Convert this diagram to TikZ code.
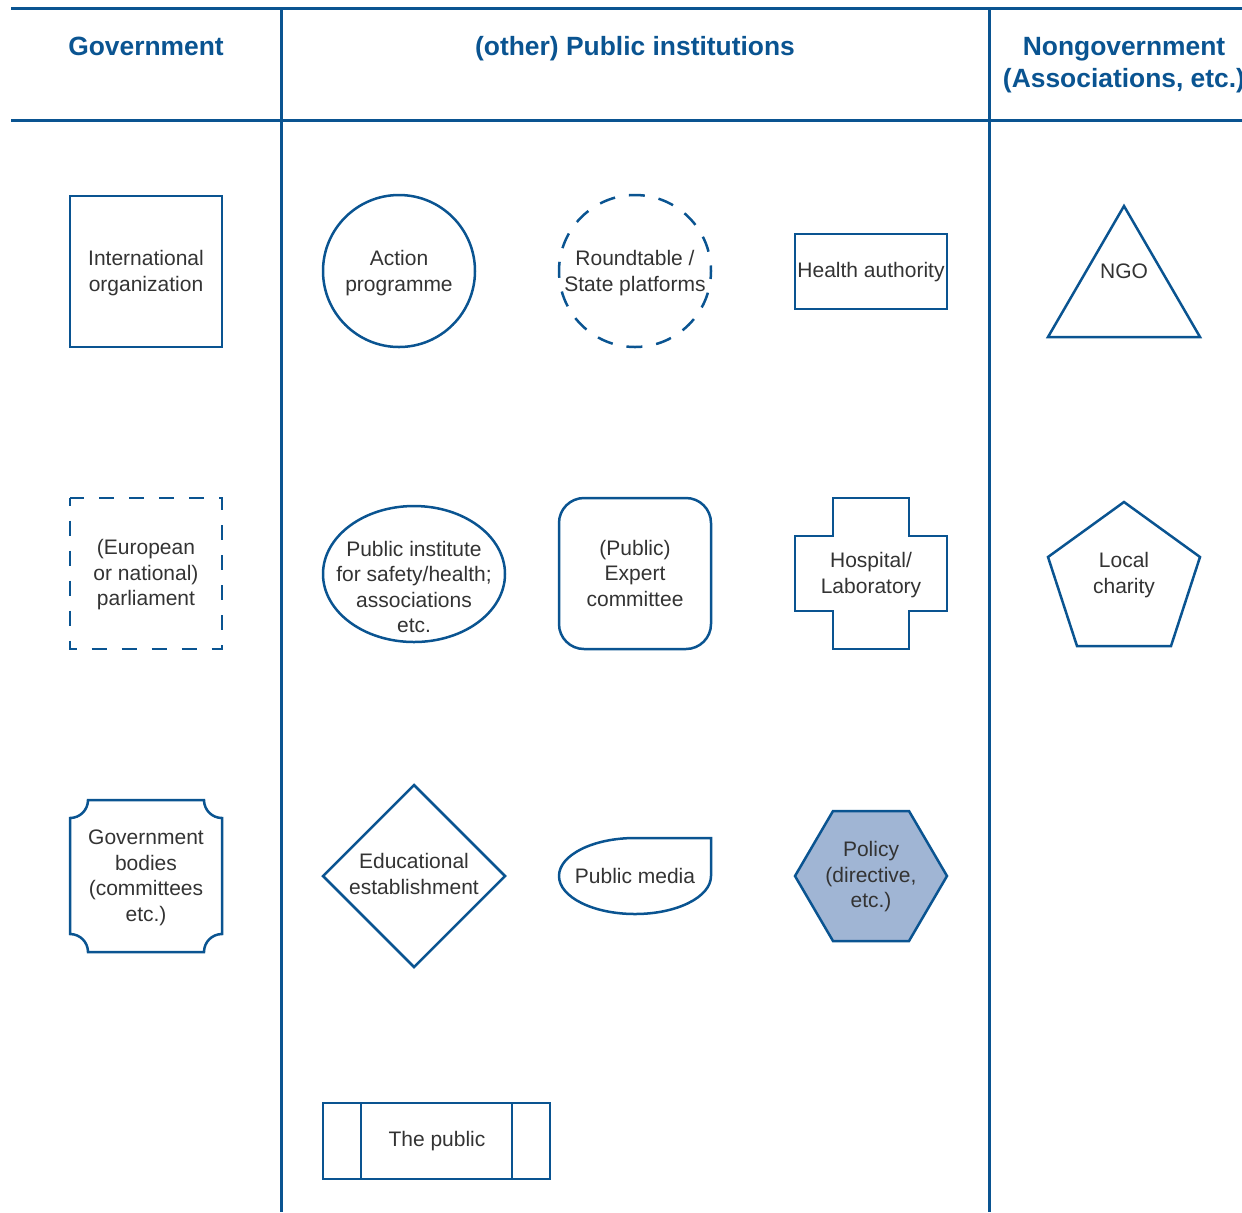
\documentclass[tikz,border=0pt]{standalone}
\usepackage{fontspec}
\setmainfont{Liberation Sans}
\usetikzlibrary{shapes.geometric}
\definecolor{lineblue}{RGB}{10,84,145}
\definecolor{polfill}{RGB}{160,181,212}
\definecolor{txtgrey}{RGB}{51,51,51}
\begin{document}
\begin{tikzpicture}[x=0.5pt,y=-0.5pt,
  frame/.style={draw=lineblue,line width=1.5pt},
  shp/.style={draw=lineblue,line width=1.25pt},
  dshrect/.style={shp,dash pattern=on 7.5pt off 7.5pt,dash phase=3.75pt},
  dshcirc/.style={shp,dash pattern=on 8pt off 7pt,dash phase=4pt},
  lbl/.style={text=txtgrey,align=center,font=\fontsize{10.5}{12.75}\selectfont,inner sep=0pt,yshift=-1pt},
  hdr/.style={text=lineblue,align=center,font=\bfseries\fontsize{13.2}{16}\selectfont,inner sep=0pt,anchor=base}]
\useasboundingbox (0,0) rectangle (1242,1212);
% frame lines
\draw[frame] (11,8) -- (1242,8);
\draw[frame] (11,120) -- (1242,120);
\draw[frame] (281,8) -- (281,1212);
\draw[frame] (989,8) -- (989,1212);
% headers
\node[hdr] (hgov) at (146,55) {Government};
\node[hdr] (hpub) at (635,55) {(other) Public institutions};
\node[hdr] (hngo) at (1124,55) {Nongovernment};
\node[hdr] (hngo2) at (1124,87) {(Associations, etc.)};
% row 1
\draw[shp] (70,196) rectangle (222,347);
\node[lbl] (intorg) at (146,271) {International\\organization};
\draw[shp] (399,271) circle[radius=76];
\node[lbl] (action) at (399,271) {Action\\programme};
\draw[dshcirc] (635,271) circle[radius=76];
\node[lbl] (round) at (635,271) {Roundtable /\\State platforms};
\draw[shp] (795,234) rectangle (947,309);
\node[lbl] (health) at (871,270) {Health authority};
\draw[shp] (1124,206) -- (1200,337) -- (1048,337) -- cycle;
\node[lbl] (ngo) at (1124,269) {NGO};
% row 2
\draw[dshrect] (70,498) rectangle (222,649);
\node[lbl] (parl) at (146,573) {(European\\or national)\\parliament};
\draw[shp] (414,574) ellipse[x radius=91,y radius=68];
\node[lbl] (inst) at (414,585) {Public institute\\for safety/health;\\associations\\etc.};
\draw[shp,rounded corners=12.5pt] (559,498) rectangle (711,649);
\node[lbl] (expert) at (635,571) {(Public)\\Expert\\committee};
\draw[shp] (833,498) -- (909,498) -- (909,536) -- (947,536) -- (947,611) -- (909,611)
  -- (909,649) -- (833,649) -- (833,611) -- (795,611) -- (795,536) -- (833,536) -- cycle;
\node[lbl] (hosp) at (871,573) {Hospital/\\Laboratory};
\draw[shp] (1124,502) -- (1200,557) -- (1171,646) -- (1077,646) -- (1048,557) -- cycle;
\node[lbl] (charity) at (1124,573) {Local\\charity};
% row 3
\draw[shp] (88,800) -- (204,800) arc[start angle=180,end angle=90,radius=18]
  -- (222,934) arc[start angle=270,end angle=180,radius=18]
  -- (88,952) arc[start angle=0,end angle=-90,radius=18]
  -- (70,818) arc[start angle=90,end angle=0,radius=18] -- cycle;
\node[lbl] (govbod) at (146,876) {Government\\bodies\\(committees\\etc.)};
\draw[shp] (414,785) -- (505,876) -- (414,967) -- (323,876) -- cycle;
\node[lbl] (edu) at (414,872) {Educational\\establishment};
\draw[shp] (711,838) -- (711,876) arc[start angle=0,end angle=270,x radius=76,y radius=38] -- cycle;
\node[lbl] (media) at (635,874) {Public media};
\draw[shp,fill=polfill] (795,876) -- (833,811) -- (909,811) -- (947,876) -- (909,941) -- (833,941) -- cycle;
\node[lbl] (policy) at (871,875) {Policy\\(directive,\\etc.)};
% row 4
\draw[shp] (323,1103) rectangle (550,1179);
\draw[shp] (361,1103) -- (361,1179);
\draw[shp] (512,1103) -- (512,1179);
\node[lbl] (public) at (437,1139) {The public};
\end{tikzpicture}
\end{document}
